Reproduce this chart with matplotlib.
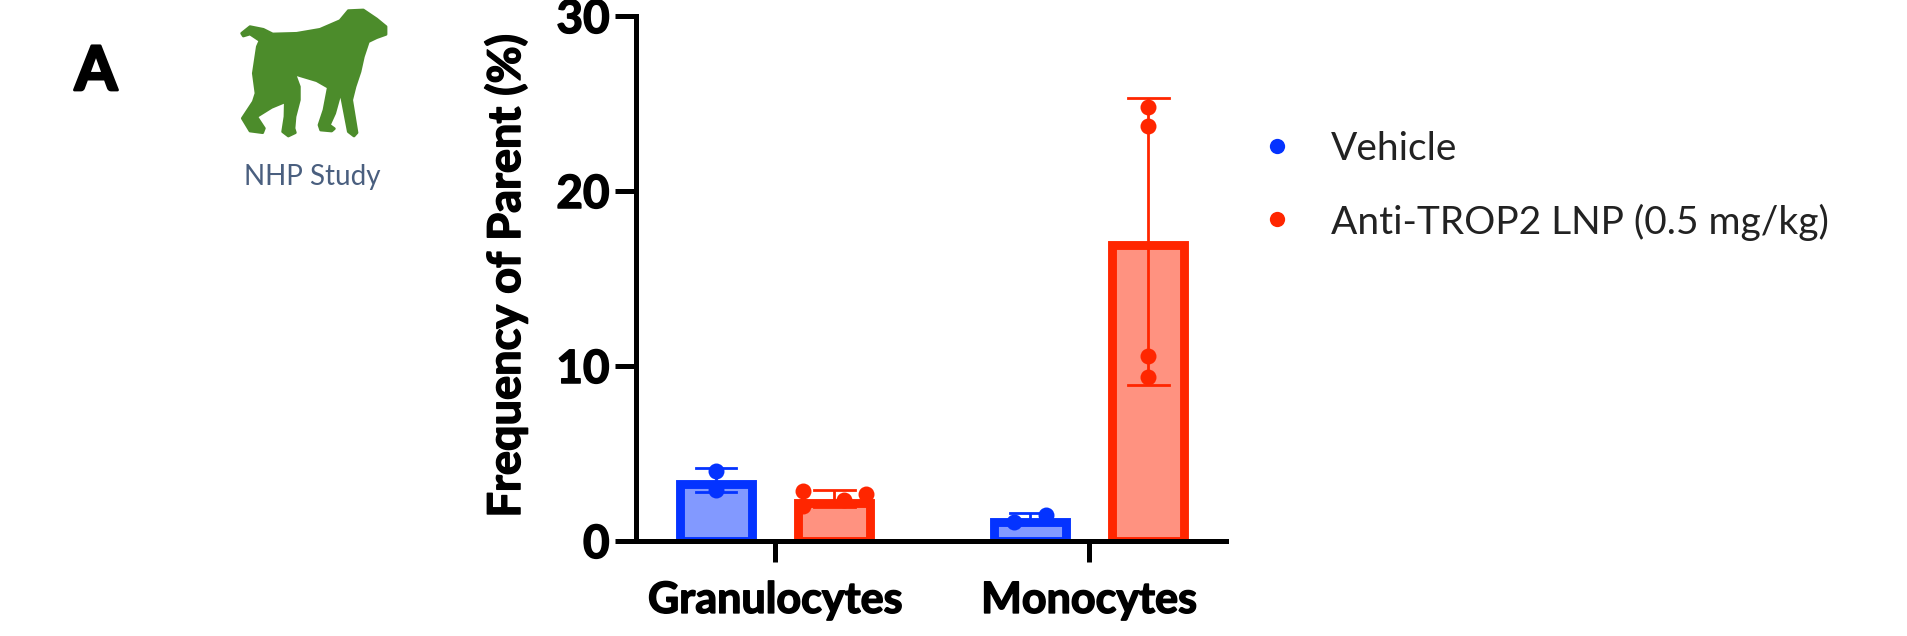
import matplotlib
matplotlib.use("Agg")
import matplotlib.pyplot as plt
import matplotlib.patheffects as pe
from matplotlib.patches import Polygon

plt.rcParams['font.family'] = ['Lato', 'DejaVu Sans']

categories = ['Granulocytes', 'Monocytes']
groups = ['Vehicle', 'Anti-TROP2 LNP (0.5 mg/kg)']

vehicle_means = [3.25, 1.1]
lnp_means = [2.2, 16.9]
vehicle_err_low = [2.8, 1.05]
vehicle_err_high = [4.2, 1.6]
lnp_err_low = [1.95, 8.9]
lnp_err_high = [2.9, 25.3]

vehicle_points = [[4.0, 2.9], [1.1, 1.5]]
vehicle_jitter = [[0.0, 0.0], [-0.05, 0.05]]
lnp_points = [[2.85, 2.0, 2.35, 2.7], [24.8, 23.7, 10.6, 9.4]]
lnp_jitter = [[-0.1, -0.1, 0.03, 0.1], [0.0, 0.0, 0.0, 0.0]]

BLUE = '#0433FF'
RED = '#FF2600'
BLUE_FILL = '#8299FF'
RED_FILL = '#FF9280'

W, H = 1908, 636
heavy = [pe.withStroke(linewidth=1.1, foreground='black')]

fig = plt.figure(figsize=(W / 100, H / 100), dpi=100)
ax = fig.add_axes([636 / W, 1 - 541 / H, 590 / W, 525 / H])
ax.patch.set_alpha(0)


def draw_group(pos, means, low, high, points, jitter, col, fill):
    ax.bar(pos, means, width=0.229, color=fill, edgecolor=col, linewidth=6.4, zorder=2)
    for i in range(len(pos)):
        ax.plot([pos[i], pos[i]], [low[i], high[i]], color=col, lw=2, zorder=3, solid_capstyle='butt')
        for v in (low[i], high[i]):
            ax.plot([pos[i] - 0.065, pos[i] + 0.065], [v, v], color=col, lw=2, zorder=3)
        ax.plot([pos[i] + j for j in jitter[i]], points[i], 'o', color=col, ms=11.5, mew=0, zorder=4)


pos_v = [i - 0.188 for i in range(len(categories))]
pos_l = [i + 0.188 for i in range(len(categories))]
draw_group(pos_v, vehicle_means, vehicle_err_low, vehicle_err_high, vehicle_points, vehicle_jitter, BLUE, BLUE_FILL)
draw_group(pos_l, lnp_means, lnp_err_low, lnp_err_high, lnp_points, lnp_jitter, RED, RED_FILL)

ax.set_xlim(-0.443, 1.436)
ax.set_ylim(0, 30)
ax.set_yticks([0, 10, 20, 30])
ax.set_xticks(range(len(categories)))
ax.set_xticklabels(categories)
for s in ('top', 'right'):
    ax.spines[s].set_visible(False)
for s in ('left', 'bottom'):
    ax.spines[s].set_linewidth(3.6)
ax.tick_params(axis='both', width=3.6, length=15)
ax.tick_params(axis='x', pad=13, labelsize=31)
ax.tick_params(axis='y', pad=4, labelsize=33)
for t in ax.get_xticklabels() + ax.get_yticklabels():
    t.set_fontweight('bold')
    t.set_path_effects(heavy)
ax.set_ylabel('Frequency of Parent (%)', fontsize=32.5, fontweight='bold', path_effects=heavy)
ax.yaxis.set_label_coords((528 - 636) / 590, 0.505)

# legend placed by hand
overlay = fig.add_axes([0, 0, 1, 1])
overlay.set_xlim(0, W)
overlay.set_ylim(H, 0)
overlay.axis('off')
overlay.patch.set_alpha(0)
for name, col, y in zip(groups, (BLUE, RED), (146, 219)):
    overlay.plot([1277], [y], 'o', color=col, ms=11, mew=0)
    overlay.text(1331, y + 3, name, fontsize=28, va='center', ha='left', color='#222222')

overlay.text(96, 72, 'A', fontsize=44, fontweight='bold', ha='center', va='center', color='black',
             path_effects=[pe.withStroke(linewidth=2, foreground='black')])
overlay.text(312, 177, 'NHP Study', fontsize=20, ha='center', va='center', color='#4A5F7F')

# dog icon outline
dog = [(125, 100), (150, 80), (190, 88), (218, 102), (290, 100), (360, 88), (420, 62), (445, 32), (490, 30),
       (530, 57), (558, 80), (558, 103), (530, 113), (505, 125), (490, 170), (480, 215), (465, 260), (455, 300),
       (471, 398), (462, 408), (445, 395), (422, 275), (404, 340), (388, 375), (403, 386), (395, 393), (362, 390),
       (357, 375), (372, 330), (385, 262), (350, 242), (300, 227), (284, 222), (298, 260), (298, 300), (285, 350),
       (282, 385), (286, 398), (265, 408), (248, 395), (255, 350), (256, 305), (215, 322), (170, 350), (193, 385),
       (188, 398), (150, 393), (127, 355), (160, 305), (168, 280), (160, 220), (172, 140), (180, 122), (150, 102),
       (130, 108)]
overlay.add_patch(Polygon([(200 + x / 3, y / 3) for x, y in dog], closed=True, facecolor='#4C8C2B',
                          edgecolor='#4C8C2B', lw=2, joinstyle='round'))

fig.savefig('out.png', dpi=100)
